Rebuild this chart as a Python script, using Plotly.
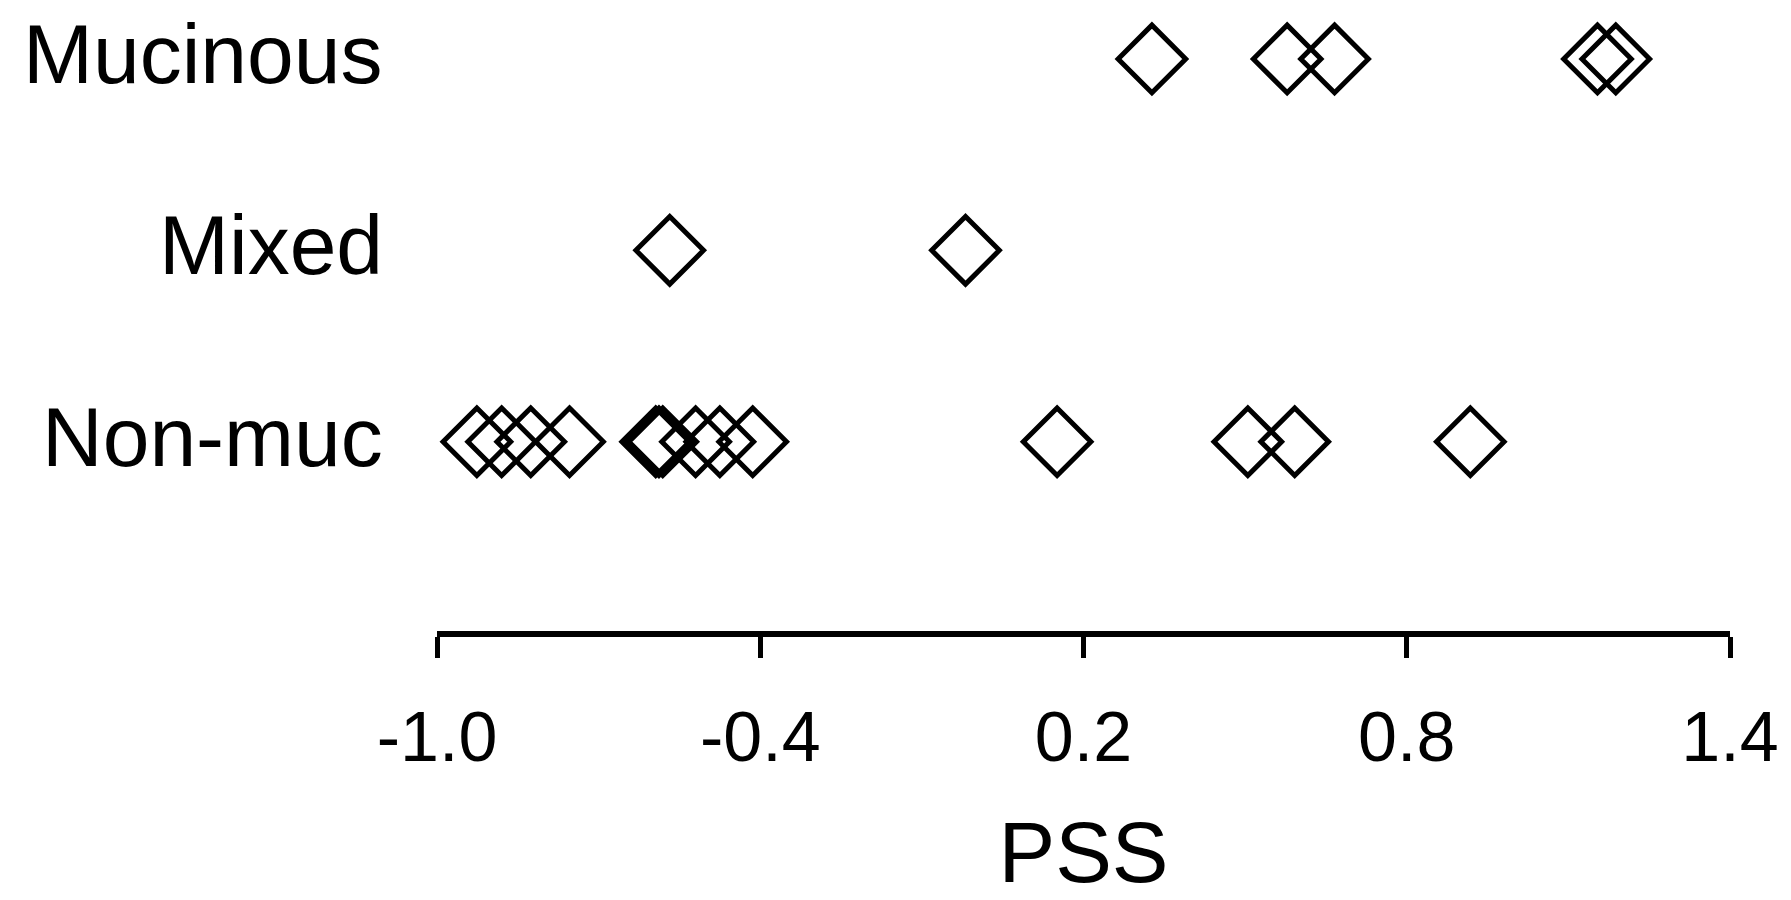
import plotly.graph_objects as go

categories = ["Non-muc", "Mixed", "Mucinous"]
nonmuc_pss = [-0.926, -0.880, -0.826, -0.754, -0.594, -0.588, -0.581, -0.520, -0.475, -0.414,
              0.151, 0.505, 0.592, 0.918]
mixed_pss = [-0.568, -0.019]
mucinous_pss = [0.327, 0.578, 0.666, 1.154, 1.188]
x_ticks = [-1.0, -0.4, 0.2, 0.8, 1.4]
x_tick_labels = ["-1.0", "-0.4", "0.2", "0.8", "1.4"]

groups = [nonmuc_pss, mixed_pss, mucinous_pss]

fig = go.Figure()
for i, (name, vals) in enumerate(zip(categories, groups)):
    fig.add_trace(go.Scatter(
        x=vals, y=[i] * len(vals), mode="markers", name=name,
        marker=dict(symbol="diamond-open", size=52, color="black",
                    line=dict(color="black", width=5)),
        showlegend=False, cliponaxis=False,
    ))

font_family = "Liberation Sans, Arial, sans-serif"

for i, name in enumerate(categories):
    fig.add_annotation(
        x=0, xref="paper", xanchor="right", xshift=-52,
        y=i, yref="y", yanchor="middle", yshift=5,
        text=name, showarrow=False,
        font=dict(size=84, family=font_family, color="black"),
    )

fig.update_layout(
    width=1791, height=900,
    margin=dict(l=437, r=61, t=0, b=269),
    paper_bgcolor="white", plot_bgcolor="white",
    font=dict(family=font_family, color="black"),
    xaxis=dict(
        range=[-1.0, 1.4], tickvals=x_ticks, ticktext=x_tick_labels,
        showline=True, linecolor="black", linewidth=6, mirror=False,
        ticks="outside", ticklen=21, tickwidth=5, tickcolor="black",
        showgrid=False, zeroline=False,
        tickfont=dict(size=70, family=font_family, color="black"),
        ticklabelstandoff=19,
        title=dict(text="PSS", font=dict(size=85, family=font_family, color="black"), standoff=54),
    ),
    yaxis=dict(
        range=[-0.989, 2.308], showticklabels=False,
        showline=False, ticks="", showgrid=False, zeroline=False,
    ),
)

fig.write_html("out.html")
